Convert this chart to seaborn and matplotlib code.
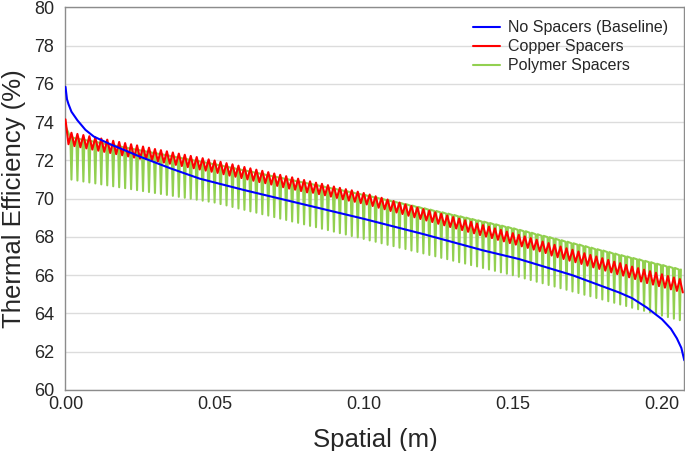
import numpy as np
import pandas as pd
import seaborn as sns
import matplotlib.pyplot as plt

# -- Eficiencia termica ao longo do comprimento -- #

# baseline (sem espacadores)
base_x = [0.0, 0.0005, 0.001, 0.002, 0.004, 0.0067, 0.0095, 0.015, 0.025, 0.035,
          0.045, 0.06, 0.08, 0.10, 0.12, 0.14, 0.152, 0.17, 0.1856, 0.19,
          0.195, 0.20, 0.203, 0.205, 0.2065, 0.2075]
base_y = [75.85, 75.2, 74.95, 74.55, 74.1, 73.6, 73.25, 72.85, 72.2, 71.6,
          71.05, 70.45, 69.7, 68.95, 68.15, 67.3, 66.85, 66.0, 65.1, 64.8,
          64.3, 63.7, 63.2, 62.7, 62.2, 61.55]

# espacadores a cada 2 mm
spacer_mm = list(range(2, 207, 2))

copper_start = [74.15, 72.85]  # x = 0 e 0.001
copper_peak = [
    73.45, 73.39, 73.33, 73.27, 73.21, 73.15, 73.09, 73.03, 72.97, 72.91,
    72.85, 72.79, 72.73, 72.67, 72.60, 72.54, 72.48, 72.42, 72.36, 72.30,
    72.24, 72.18, 72.12, 72.06, 72.00, 71.93, 71.86, 71.80, 71.73, 71.66,
    71.59, 71.52, 71.46, 71.39, 71.32, 71.25, 71.18, 71.12, 71.05, 70.98,
    70.91, 70.84, 70.78, 70.71, 70.64, 70.57, 70.50, 70.44, 70.37, 70.30,
    70.22, 70.13, 70.05, 69.96, 69.88, 69.80, 69.71, 69.63, 69.54, 69.46,
    69.38, 69.29, 69.21, 69.12, 69.04, 68.96, 68.87, 68.79, 68.70, 68.62,
    68.54, 68.45, 68.37, 68.28, 68.20, 68.11, 68.03, 67.94, 67.85, 67.76,
    67.68, 67.59, 67.50, 67.41, 67.33, 67.24, 67.15, 67.06, 66.98, 66.89,
    66.80, 66.71, 66.63, 66.54, 66.45, 66.37, 66.29, 66.21, 66.13, 66.05,
    65.96, 65.88, 65.80]
copper_trough = [
    72.75, 72.69, 72.63, 72.57, 72.51, 72.45, 72.39, 72.33, 72.27, 72.21,
    72.15, 72.09, 72.08, 72.02, 71.95, 71.89, 71.83, 71.77, 71.71, 71.65,
    71.59, 71.53, 71.47, 71.41, 71.35, 71.28, 71.21, 71.15, 71.08, 71.01,
    70.94, 70.87, 70.81, 70.74, 70.67, 70.60, 70.53, 70.47, 70.40, 70.33,
    70.31, 70.24, 70.18, 70.11, 70.04, 69.97, 69.90, 69.84, 69.77, 69.70,
    69.62, 69.53, 69.45, 69.36, 69.28, 69.20, 69.11, 69.03, 68.94, 68.86,
    68.78, 68.69, 68.61, 68.52, 68.44, 68.36, 68.27, 68.19, 68.10, 68.02,
    67.94, 67.85, 67.77, 67.68, 67.60, 67.51, 67.43, 67.34, 67.25, 67.16,
    67.03, 66.94, 66.85, 66.76, 66.68, 66.59, 66.50, 66.41, 66.33, 66.24,
    66.15, 66.06, 65.98, 65.89, 65.80, 65.67, 65.59, 65.51, 65.43, 65.35,
    65.26, 65.18, 65.10]

polymer_start = 73.8  # x = 0
polymer_top = [
    73.20, 73.14, 73.08, 73.03, 72.97, 72.91, 72.85, 72.79, 72.73, 72.68,
    72.62, 72.56, 72.50, 72.44, 72.38, 72.33, 72.27, 72.21, 72.15, 72.09,
    72.03, 71.98, 71.92, 71.86, 71.80, 71.74, 71.67, 71.61, 71.54, 71.48,
    71.42, 71.35, 71.29, 71.22, 71.16, 71.10, 71.03, 70.97, 70.90, 70.84,
    70.78, 70.71, 70.65, 70.58, 70.52, 70.46, 70.39, 70.33, 70.26, 70.20,
    70.13, 70.06, 69.99, 69.92, 69.85, 69.78, 69.71, 69.64, 69.57, 69.50,
    69.43, 69.36, 69.29, 69.22, 69.15, 69.08, 69.01, 68.94, 68.87, 68.80,
    68.73, 68.66, 68.59, 68.52, 68.45, 68.37, 68.30, 68.22, 68.14, 68.06,
    67.99, 67.91, 67.83, 67.75, 67.67, 67.60, 67.52, 67.44, 67.36, 67.29,
    67.21, 67.13, 67.05, 66.98, 66.90, 66.83, 66.75, 66.68, 66.60, 66.53,
    66.45, 66.38, 66.30]
polymer_bottom = [
    71.00, 70.95, 70.90, 70.85, 70.80, 70.75, 70.70, 70.65, 70.60, 70.55,
    70.50, 70.45, 70.40, 70.35, 70.30, 70.25, 70.20, 70.15, 70.10, 70.05,
    70.00, 69.95, 69.90, 69.85, 69.80, 69.72, 69.65, 69.57, 69.49, 69.42,
    69.34, 69.27, 69.19, 69.12, 69.04, 68.96, 68.89, 68.81, 68.74, 68.66,
    68.58, 68.51, 68.43, 68.36, 68.28, 68.20, 68.13, 68.05, 67.98, 67.90,
    67.82, 67.75, 67.67, 67.59, 67.52, 67.44, 67.37, 67.29, 67.22, 67.14,
    67.06, 66.99, 66.91, 66.84, 66.76, 66.68, 66.61, 66.53, 66.46, 66.38,
    66.30, 66.23, 66.15, 66.08, 66.00, 65.92, 65.83, 65.75, 65.66, 65.58,
    65.49, 65.41, 65.32, 65.24, 65.15, 65.07, 64.98, 64.90, 64.81, 64.73,
    64.64, 64.56, 64.47, 64.39, 64.30, 64.22, 64.14, 64.06, 63.98, 63.89,
    63.81, 63.73, 63.65]

y_ticks = [60, 62, 64, 66, 68, 70, 72, 74, 76, 78, 80]
x_ticks = [0.00, 0.05, 0.10, 0.15, 0.20]

# montando os caminhos das curvas oscilantes
xs = np.array(spacer_mm) / 1000
cu_x = [0.0, 0.001]
cu_y = list(copper_start)
for x, p, t in zip(xs, copper_peak, copper_trough):
    cu_x += [x, x + 0.001]
    cu_y += [p, t]

dw = 0.00035
po_x = [0.0]
po_y = [polymer_start]
for x, top, bot in zip(xs, polymer_top, polymer_bottom):
    po_x += [x - dw, x, x + dw]
    po_y += [top, bot, top]

df_base = pd.DataFrame({"x": base_x, "y": base_y})
df_cu = pd.DataFrame({"x": cu_x, "y": cu_y})
df_po = pd.DataFrame({"x": po_x, "y": po_y})

sns.set_style("white")
plt.rcParams["font.family"] = ["Liberation Sans", "DejaVu Sans"]

fig, ax = plt.subplots(figsize=(6.85, 4.51), dpi=100)
fig.subplots_adjust(left=0.0956, right=0.999, bottom=0.1353, top=0.9834)

sns.lineplot(data=df_po, x="x", y="y", ax=ax, color="#92d050", lw=3.0,
             sort=False, estimator=None, label="Polymer Spacers", zorder=2)
sns.lineplot(data=df_cu, x="x", y="y", ax=ax, color="#ff0000", lw=1.4,
             sort=False, estimator=None, label="Copper Spacers", zorder=3)
sns.lineplot(data=df_base, x="x", y="y", ax=ax, color="#0000ff", lw=1.8,
             sort=False, estimator=None, label="No Spacers (Baseline)", zorder=4)

ax.set_xlim(0, 0.2075)
ax.set_ylim(60, 80)
ax.set_xticks(x_ticks)
ax.set_xticklabels([f"{t:.2f}" for t in x_ticks])
ax.set_yticks(y_ticks)
ax.tick_params(axis="x", length=0, labelsize=13, pad=4)
ax.tick_params(axis="y", length=0, labelsize=13, pad=8)
ax.yaxis.grid(True, color="#dcdcdc", lw=1)
ax.set_axisbelow(True)
for s in ax.spines.values():
    s.set_color("#8c8c8c")
    s.set_linewidth(1)

ax.set_xlabel("Spatial (m)", fontsize=18.5, labelpad=11)
ax.set_ylabel("Thermal Efficiency (%)", fontsize=18.5, labelpad=6)

h, l = ax.get_legend_handles_labels()
for hh in h:
    hh.set_linewidth(1.5)
ax.legend(h[::-1], l[::-1], loc="upper right", bbox_to_anchor=(0.995, 1.0),
          frameon=False, fontsize=11.5, handlelength=1.7, handletextpad=0.5,
          labelspacing=0.25, borderaxespad=0.4)

plt.savefig("out.png", dpi=100)
